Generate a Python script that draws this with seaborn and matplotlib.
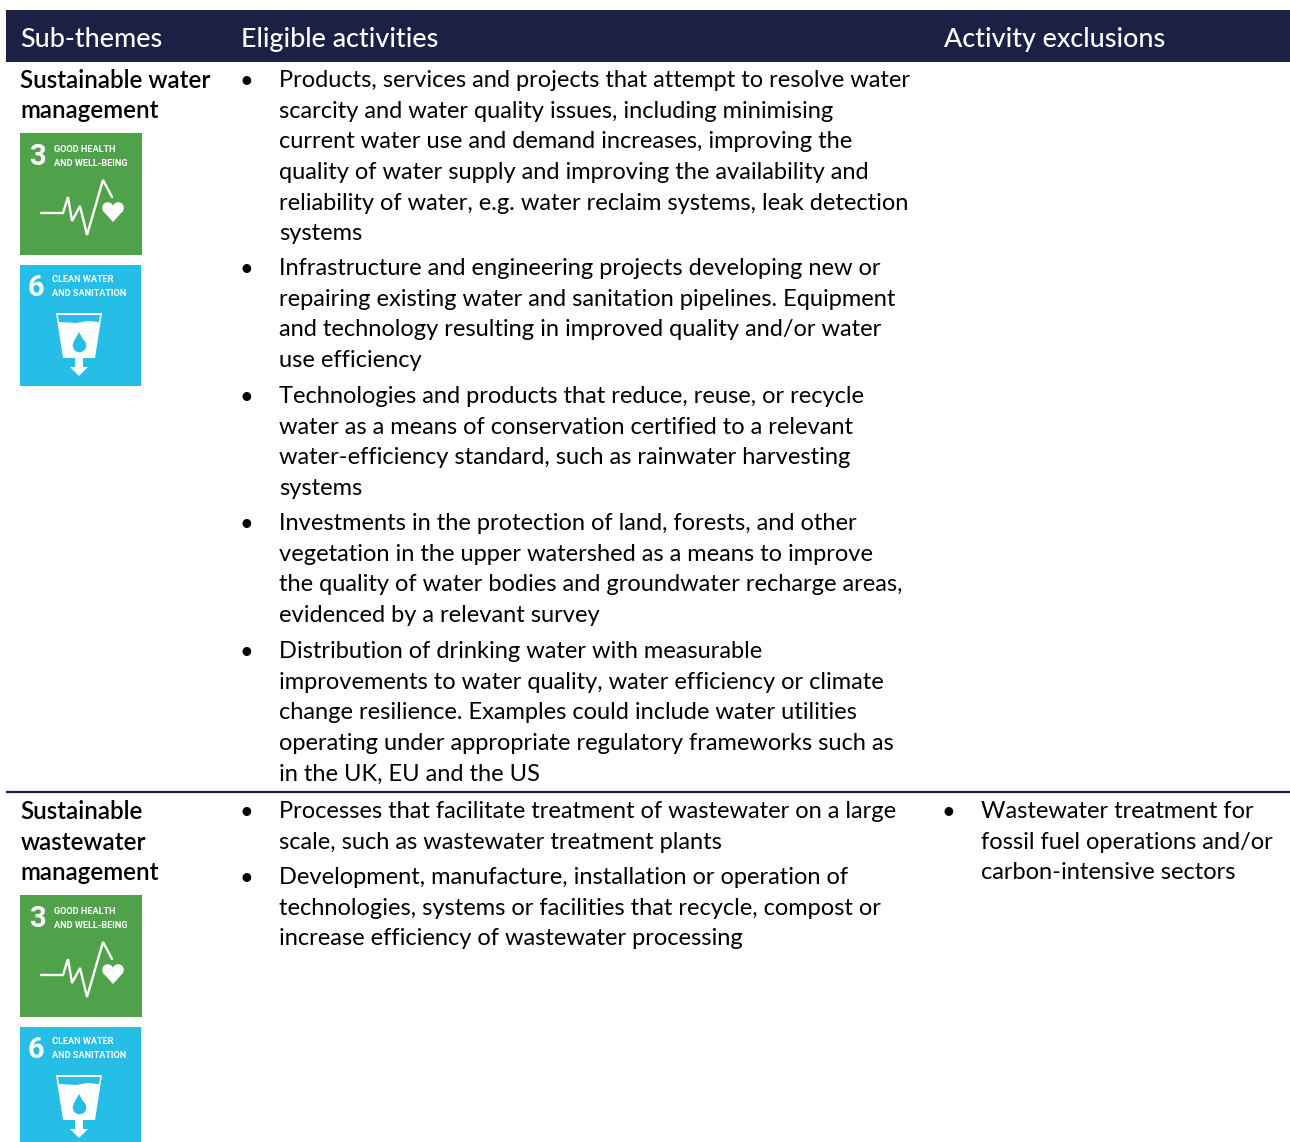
import matplotlib
matplotlib.use("Agg")
import matplotlib.pyplot as plt
from matplotlib.patches import Rectangle, Polygon, Circle
import seaborn as sns

headers = ["Sub-themes", "Eligible activities", "Activity exclusions"]
theme_1 = ["Sustainable water", "management"]
theme_2 = ["Sustainable", "wastewater", "management"]
activities_1 = [
    ["Products, services and projects that attempt to resolve water",
     "scarcity and water quality issues, including minimising",
     "current water use and demand increases, improving the",
     "quality of water supply and improving the availability and",
     "reliability of water, e.g. water reclaim systems, leak detection",
     "systems"],
    ["Infrastructure and engineering projects developing new or",
     "repairing existing water and sanitation pipelines. Equipment",
     "and technology resulting in improved quality and/or water",
     "use efficiency"],
    ["Technologies and products that reduce, reuse, or recycle",
     "water as a means of conservation certified to a relevant",
     "water-efficiency standard, such as rainwater harvesting",
     "systems"],
    ["Investments in the protection of land, forests, and other",
     "vegetation in the upper watershed as a means to improve",
     "the quality of water bodies and groundwater recharge areas,",
     "evidenced by a relevant survey"],
    ["Distribution of drinking water with measurable",
     "improvements to water quality, water efficiency or climate",
     "change resilience. Examples could include water utilities",
     "operating under appropriate regulatory frameworks such as",
     "in the UK, EU and the US"],
]
activities_2 = [
    ["Processes that facilitate treatment of wastewater on a large",
     "scale, such as wastewater treatment plants"],
    ["Development, manufacture, installation or operation of",
     "technologies, systems or facilities that recycle, compost or",
     "increase efficiency of wastewater processing"],
]
exclusions_2 = [
    ["Wastewater treatment for",
     "fossil fuel operations and/or",
     "carbon-intensive sectors"],
]
sdg_3 = ("3", "GOOD HEALTH", "AND WELL-BEING")
sdg_6 = ("6", "CLEAN WATER", "AND SANITATION")

NAVY, GREEN, BLUE = "#1b2145", "#4fa24a", "#26bde6"
FONT = "Lato"
BODY = 17.0
LINE = 30.6

sns.set_theme(style="white")
plt.rcParams["font.family"] = [FONT, "DejaVu Sans"]

fig, ax = plt.subplots(figsize=(12.9, 11.42), dpi=100)
ax.set_position([0, 0, 1, 1])
ax.set_xlim(0, 1290)
ax.set_ylim(1142, 0)
ax.axis("off")
sns.despine(ax=ax, left=True, bottom=True)

ax.add_patch(Rectangle((6, 10), 1284, 52, color=NAVY, lw=0))
ax.plot([6, 1290], [792, 792], color=NAVY, lw=1.6, solid_capstyle="butt")

for txt, x in zip(headers, [20, 241, 944]):
    ax.text(x, 37, txt, color="white", fontsize=19.4, fontweight="medium", va="center_baseline", ha="left")


def block(groups, starts, xb, xt):
    for group, y0 in zip(groups, starts):
        ax.text(xb - 0.7, y0 + 0.5, "\u2022", fontsize=BODY, va="center_baseline", ha="center", color="black")
        for i, ln in enumerate(group):
            ax.text(xt, y0 - 0.3 + i * LINE, ln, fontsize=BODY, va="center_baseline", ha="left", color="black")


block(activities_1, [79, 267, 395, 522, 650], 247, 279)
block(activities_2, [810, 876], 247, 279)
block(exclusions_2, [810], 949, 981)

for i, ln in enumerate(theme_1):
    ax.text(20.5, 78.5 + i * 30.5, ln, fontsize=17.4, fontweight="semibold", va="center_baseline", color="black")
for i, ln in enumerate(theme_2):
    ax.text(20.5, 809.5 + i * 30.5, ln, fontsize=17.4, fontweight="semibold", va="center_baseline", color="black")


def label(x, y, info, dx):
    num, a, b = info
    ax.text(x + 17.5 - dx, y + 21, num, color="white", fontsize=21, fontweight="bold",
            family=["Roboto", "DejaVu Sans"], ha="center", va="center_baseline")
    ax.text(x + 34 - dx, y + 15, a, color="white", fontsize=6.6, fontweight="bold",
            family=["Roboto", "DejaVu Sans"], va="center_baseline")
    ax.text(x + 34 - dx, y + 29, b, color="white", fontsize=6.6, fontweight="bold",
            family=["Roboto", "DejaVu Sans"], va="center_baseline")


def icon3(x, y, w=122):
    ax.add_patch(Rectangle((x, y), w, 122, color=GREEN, lw=0))
    label(x, y, sdg_3, 0)
    px = [21, 43, 48, 52, 60, 67, 83, 92]
    py = [80, 80, 64, 88, 73, 102, 47, 64]
    ax.plot([x + v for v in px], [y + v for v in py], color="white", lw=1.7, solid_joinstyle="miter")
    ax.add_patch(Circle((x + 87.8, y + 74.8), 5.6, color="white", lw=0, zorder=3))
    ax.add_patch(Circle((x + 98.2, y + 74.8), 5.6, color="white", lw=0, zorder=3))
    ax.add_patch(Polygon([(x + 82.6, y + 77.5), (x + 103.4, y + 77.5), (x + 93, y + 89)], closed=True,
                         color="white", lw=0, zorder=3))


def icon6(x, y, w=121):
    ax.add_patch(Rectangle((x, y), w, 121, color=BLUE, lw=0))
    label(x, y - 1, sdg_6, 2)
    cup = [(36, 48), (82, 48), (75, 93), (63, 93), (63, 102), (68, 102), (59, 111), (50, 102),
           (55, 102), (55, 93), (43, 93)]
    ax.add_patch(Polygon([(x + a, y + b) for a, b in cup], closed=True, color="white", lw=0))
    water_top = [(38, 50), (80, 50), (79, 57), (68, 56), (56, 58), (39, 57)]
    ax.add_patch(Polygon([(x + a, y + b) for a, b in water_top], closed=True, color=BLUE, lw=0))
    ax.scatter([x + 59], [y + 80], marker="o", s=95, color=BLUE, linewidths=0, zorder=3)
    ax.add_patch(Polygon([(x + 59, y + 67), (x + 53.5, y + 77), (x + 64.5, y + 77)], closed=True,
                         color=BLUE, lw=0, zorder=3))


icon3(20, 133)
icon6(20, 265)
icon3(20, 895)
icon6(20, 1027)

fig.savefig("out.png", dpi=100, facecolor="white")
